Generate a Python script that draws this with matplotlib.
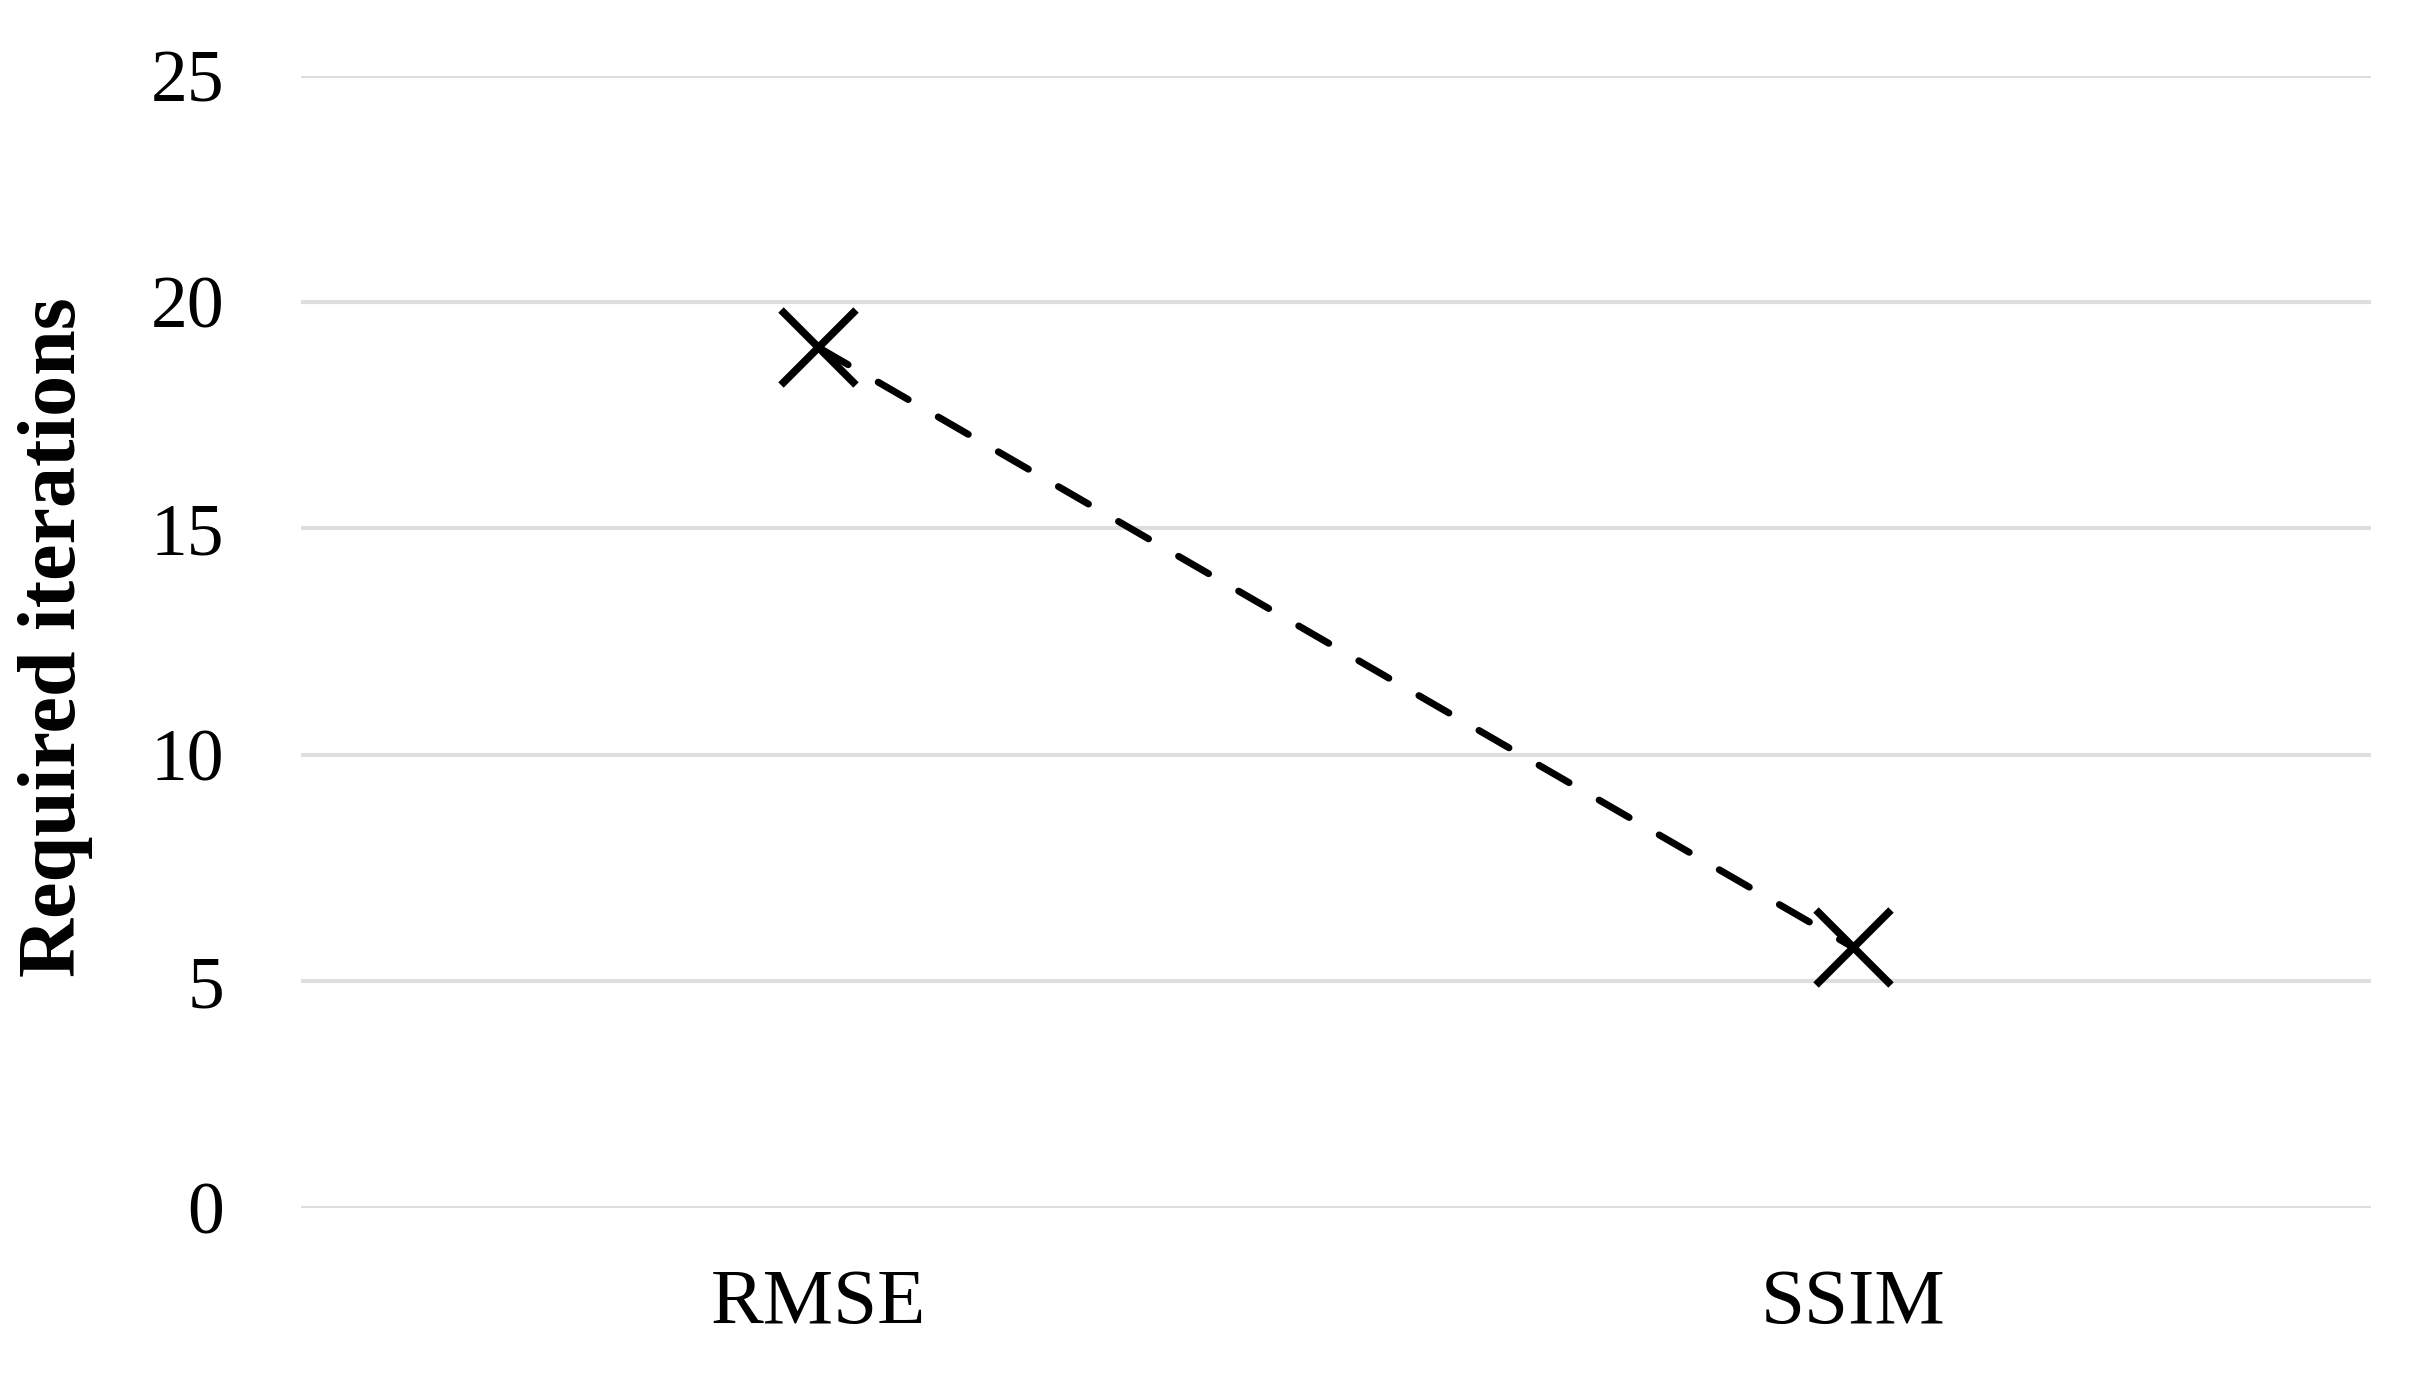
import matplotlib
matplotlib.use("Agg")
import matplotlib.pyplot as plt

metrics = ["RMSE", "SSIM"]
required_iterations = [19, 5.75]
y_ticks = [0, 5, 10, 15, 20, 25]

plt.rcParams["font.family"] = ["Liberation Serif", "DejaVu Serif"]

fig = plt.figure(figsize=(24.24, 13.74), dpi=100)
ax = fig.add_axes([0.124, 0.121, 0.854, 0.824])

x = list(range(len(metrics)))
line, = ax.plot(x, required_iterations, color="black", linewidth=5, dashes=(5, 5),
                dash_capstyle="round", marker="x", markersize=54, markeredgewidth=5.5,
                zorder=3)

ax.set_xlim(-0.5, len(metrics) - 0.5)
ax.set_ylim(0, 25)
ax.set_yticks(y_ticks)
ax.set_yticklabels([str(v) for v in y_ticks])
ax.set_xticks(x)
ax.set_xticklabels(metrics)

ax.yaxis.grid(True, color="#dedede", linewidth=3)
ax.set_axisbelow(True)
for spine in ax.spines.values():
    spine.set_visible(False)

ax.tick_params(axis="y", length=0, pad=55, labelsize=53)
ax.tick_params(axis="x", length=0, pad=44, labelsize=57)

# y label placed in figure coords so it sits near the left edge like the reference
fig.text(56 / 2424, 0.5 + (1374 / 2 - 637) / 1374, "Required iterations",
         rotation=90, ha="center", va="center", fontsize=59, fontweight="bold")

fig.savefig("out.png", dpi=100, facecolor="white")
